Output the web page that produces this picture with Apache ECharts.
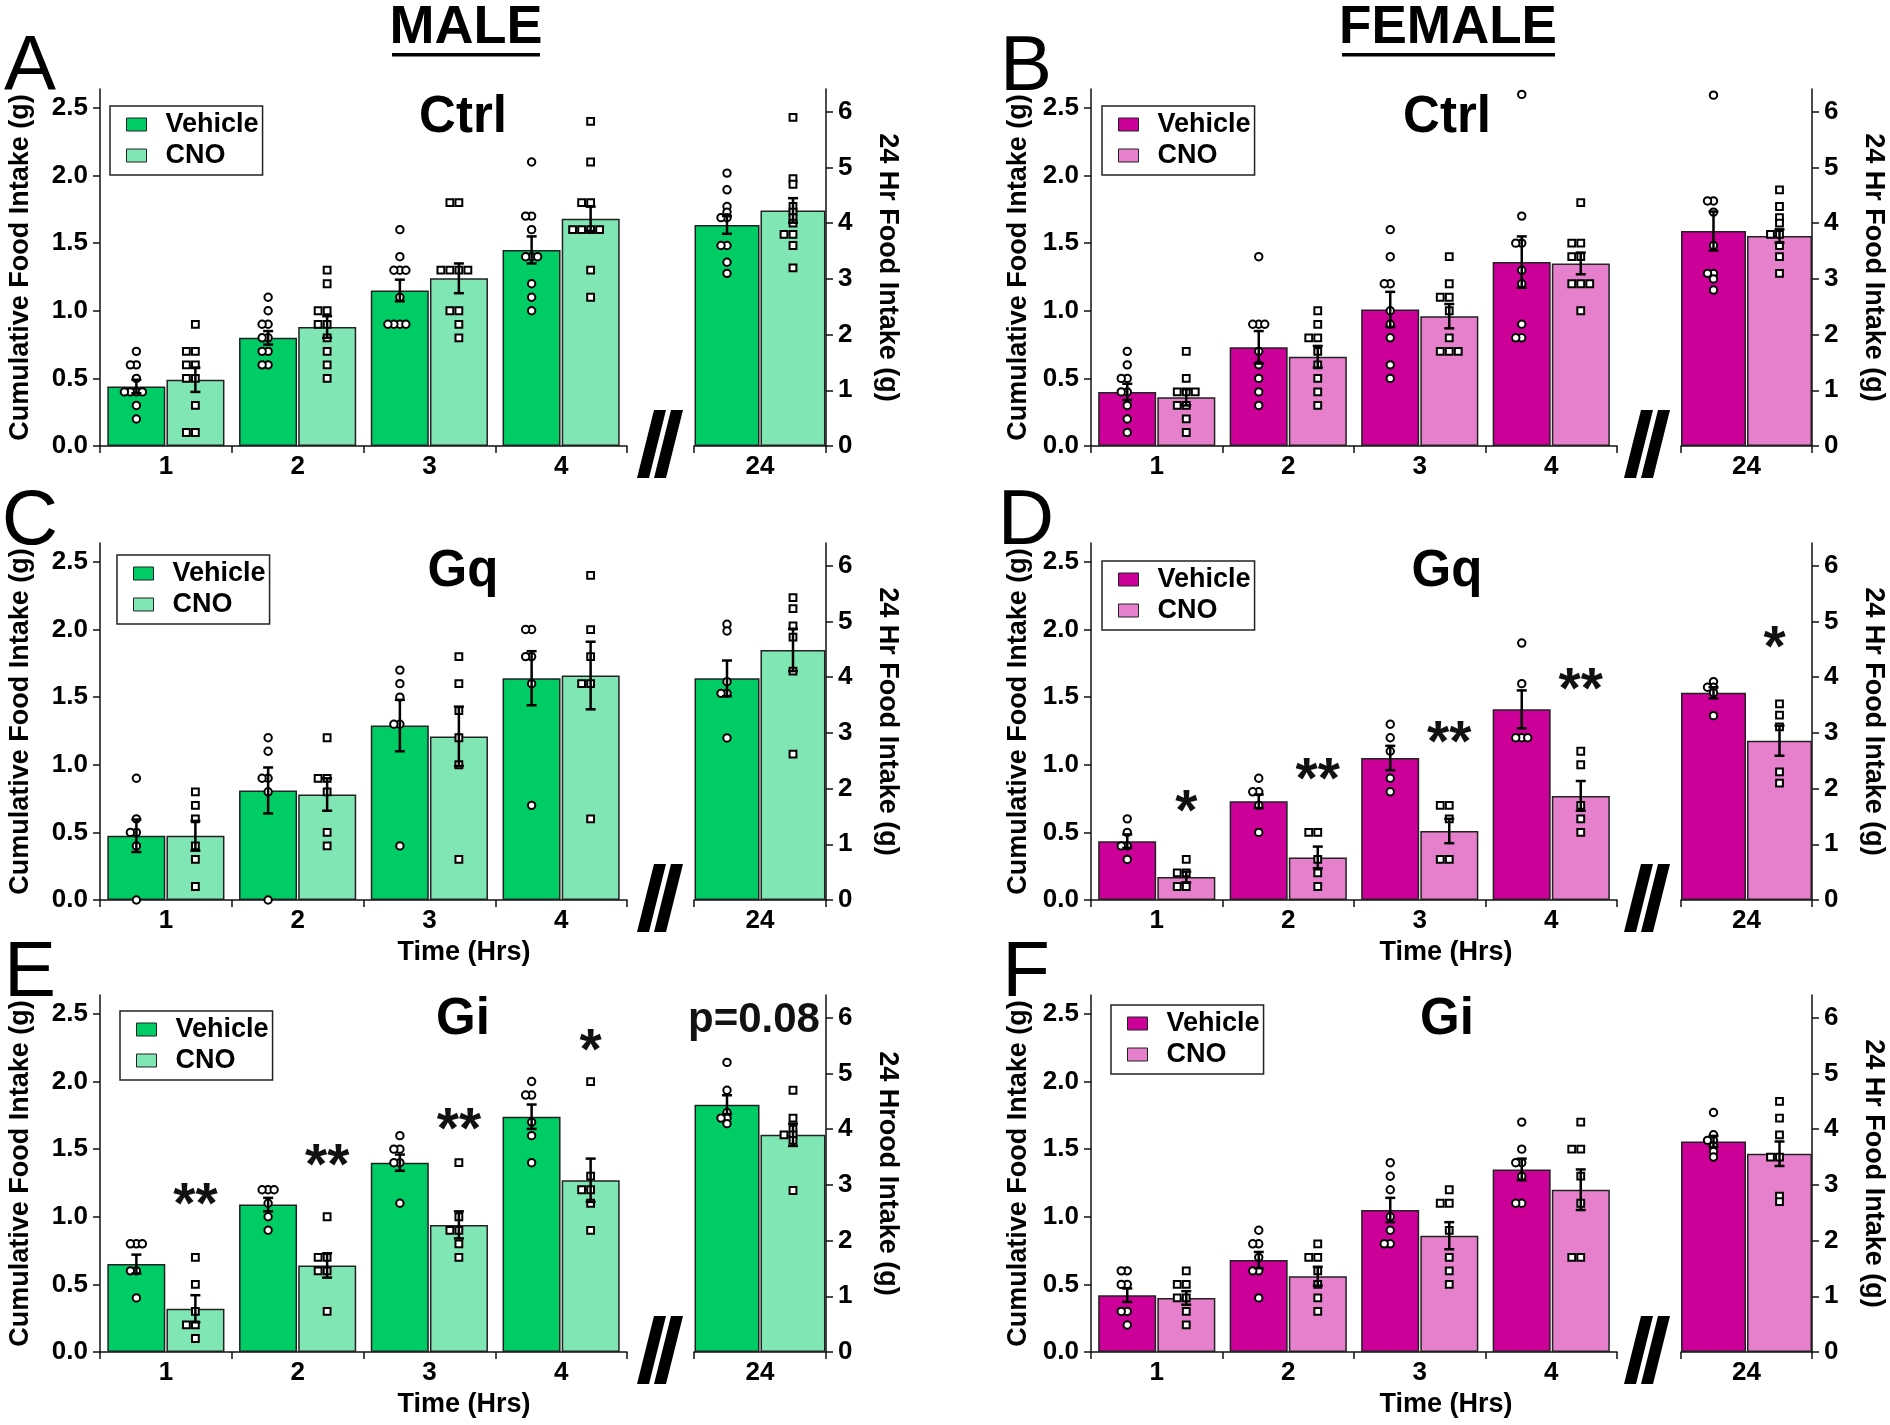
<!DOCTYPE html>
<html><head><meta charset="utf-8">
<script src="https://cdn.jsdelivr.net/npm/echarts@6/dist/echarts.min.js"></script>
<style>html,body{margin:0;padding:0;background:#fff}#c{width:1890px;height:1425px}</style>
</head><body><div id="c"></div><script>
// ---------- categories & ticks ----------
const hourCats = ['1', '2', '3', '4'];
const dayCats = ['24'];
const leftTicks = [0, 0.5, 1.0, 1.5, 2.0, 2.5];
const rightTicks = [0, 1, 2, 3, 4, 5, 6];

// ---------- data (index 0-3 = hours 1-4, left axis; index 4 = 24 h, right axis) ----------
// A: Male Ctrl
const aVehMean = [0.44, 0.80, 1.15, 1.45, 3.97];
const aVehSem  = [0.05, 0.05, 0.08, 0.10, 0.16];
const aCnoMean = [0.49, 0.88, 1.24, 1.68, 4.23];
const aCnoSem  = [0.09, 0.08, 0.11, 0.09, 0.22];
const aVehPts = [
  [0.7,0.6,0.6,0.5,0.4,0.4,0.4,0.4,0.3,0.2],
  [1.1,1.0,0.9,0.9,0.8,0.8,0.7,0.7,0.6,0.6],
  [1.6,1.4,1.3,1.3,1.3,1.1,0.9,0.9,0.9,0.9],
  [2.1,1.7,1.7,1.6,1.4,1.4,1.4,1.2,1.1,1.0],
  [4.9,4.6,4.3,4.2,4.1,4.1,3.6,3.6,3.3,3.1]];
const aCnoPts = [
  [0.9,0.7,0.7,0.6,0.6,0.5,0.5,0.3,0.1,0.1],
  [1.3,1.2,1.0,1.0,0.9,0.9,0.8,0.7,0.6,0.5],
  [1.8,1.8,1.3,1.3,1.3,1.3,1.0,1.0,0.9,0.8],
  [2.4,2.1,1.8,1.8,1.6,1.6,1.6,1.6,1.3,1.1],
  [5.9,4.8,4.7,4.3,4.2,4.1,4.0,3.8,3.8,3.6,3.2]];

// B: Female Ctrl
const bVehMean = [0.40, 0.73, 1.01, 1.36, 3.86];
const bVehSem  = [0.06, 0.12, 0.13, 0.19, 0.35];
const bCnoMean = [0.36, 0.66, 0.96, 1.35, 3.77];
const bCnoSem  = [0.06, 0.08, 0.09, 0.08, 0.12];
const bVehPts = [
  [0.7,0.6,0.5,0.5,0.4,0.4,0.3,0.2,0.1],
  [1.4,0.9,0.9,0.9,0.7,0.6,0.5,0.4,0.3],
  [1.6,1.4,1.2,1.2,1.0,0.9,0.8,0.6,0.5],
  [2.6,1.7,1.5,1.5,1.3,1.2,0.9,0.8,0.8],
  [6.3,4.4,4.4,4.2,3.6,3.1,3.1,3.0,2.8]];
const bCnoPts = [
  [0.7,0.5,0.4,0.4,0.4,0.3,0.3,0.2,0.1],
  [1.0,0.9,0.8,0.8,0.7,0.6,0.5,0.4,0.3],
  [1.4,1.2,1.1,1.1,1.0,0.8,0.7,0.7,0.7],
  [1.8,1.5,1.5,1.4,1.4,1.2,1.2,1.2,1.0],
  [4.6,4.3,4.1,4.0,3.8,3.8,3.6,3.4,3.1]];

// C: Male Gq
const cVehMean = [0.475, 0.81, 1.29, 1.64, 3.98];
const cVehSem  = [0.12, 0.17, 0.19, 0.20, 0.32];
const cCnoMean = [0.475, 0.78, 1.21, 1.66, 4.49];
const cCnoSem  = [0.11, 0.12, 0.22, 0.25, 0.38];
const cVehPts = [
  [0.9,0.6,0.5,0.5,0.4,0.0],
  [1.2,1.1,0.9,0.9,0.8,0.0],
  [1.7,1.6,1.5,1.3,1.3,0.4],
  [2.0,2.0,1.8,1.8,1.6,0.7],
  [4.95,4.83,3.92,3.71,3.71,2.91]];
const cCnoPts = [
  [0.8,0.7,0.6,0.4,0.3,0.1],
  [1.2,0.9,0.9,0.8,0.5,0.4],
  [1.8,1.6,1.4,1.2,1.0,0.3],
  [2.4,2.0,1.8,1.6,1.6,0.6],
  [5.43,5.23,4.92,4.72,4.11,2.62]];

// D: Female Gq
const dVehMean = [0.435, 0.73, 1.05, 1.41, 3.72];
const dVehSem  = [0.05, 0.05, 0.09, 0.14, 0.10];
const dCnoMean = [0.17, 0.315, 0.51, 0.77, 2.86];
const dCnoSem  = [0.04, 0.08, 0.09, 0.11, 0.27];
const dVehPts = [
  [0.6,0.5,0.4,0.4,0.3],
  [0.9,0.8,0.8,0.7,0.5],
  [1.3,1.2,1.1,0.9,0.8],
  [1.9,1.6,1.2,1.2,1.2],
  [3.92,3.82,3.82,3.72,3.31]];
const dCnoPts = [
  [0.3,0.2,0.2,0.1,0.1],
  [0.5,0.5,0.3,0.2,0.1],
  [0.7,0.7,0.6,0.3,0.3],
  [1.1,1.0,0.7,0.6,0.5],
  [3.52,3.32,3.11,2.30,2.10]];
const dStars = [[0, 0.73, '*'], [1, 0.96, '**'], [2, 1.24, '**'], [3, 1.63, '**']];
const dDayStars = [[0, 4.7, '*']];

// E: Male Gi
const eVehMean = [0.65, 1.09, 1.40, 1.74, 4.44];
const eVehSem  = [0.07, 0.05, 0.06, 0.09, 0.17];
const eCnoMean = [0.32, 0.64, 0.94, 1.27, 3.90];
const eCnoSem  = [0.10, 0.09, 0.10, 0.16, 0.20];
const eVehPts = [
  [0.8,0.8,0.8,0.6,0.6,0.4],
  [1.2,1.2,1.2,1.1,1.0,0.9],
  [1.6,1.5,1.5,1.4,1.4,1.1],
  [2.0,1.9,1.9,1.7,1.6,1.4],
  [5.2,4.7,4.3,4.2,4.2,4.1]];
const eCnoPts = [
  [0.7,0.5,0.3,0.2,0.2,0.1],
  [1.0,0.7,0.7,0.6,0.6,0.3],
  [1.4,1.0,0.9,0.9,0.8,0.7],
  [2.0,1.3,1.2,1.2,1.1,0.9],
  [4.7,4.2,4.0,3.9,3.9,3.8,2.9]];
const eStars = [[0, 1.16, '**'], [1, 1.45, '**'], [2, 1.72, '**'], [3, 2.30, '*']];
const eDayNote = [[0, 5.95, 'p=0.08']];

// F: Female Gi
const fVehMean = [0.42, 0.68, 1.05, 1.35, 3.78];
const fVehSem  = [0.05, 0.06, 0.09, 0.08, 0.10];
const fCnoMean = [0.40, 0.56, 0.86, 1.20, 3.56];
const fCnoSem  = [0.05, 0.07, 0.10, 0.15, 0.22];
const fVehPts = [
  [0.6,0.6,0.5,0.5,0.3,0.3,0.2],
  [0.9,0.8,0.8,0.7,0.6,0.6,0.4],
  [1.4,1.3,1.2,1.0,0.9,0.8,0.8],
  [1.7,1.5,1.4,1.4,1.3,1.1,1.1],
  [4.3,3.9,3.8,3.8,3.7,3.6,3.5]];
const fCnoPts = [
  [0.6,0.5,0.5,0.4,0.4,0.3,0.2],
  [0.8,0.7,0.7,0.6,0.5,0.4,0.3],
  [1.2,1.1,1.1,0.9,0.7,0.6,0.5],
  [1.7,1.5,1.5,1.3,1.1,0.7,0.7],
  [4.5,4.2,3.9,3.5,3.5,2.8,2.7]];

// ---------- styles / layout ----------
const FONT = '"Liberation Sans", Arial, Helvetica, sans-serif';
const COL = { mVeh: '#00CC66', mCno: '#80E6B3', fVeh: '#CC0099', fCno: '#E680CC' };
const ROW_TOP = [89, 543, 995];
const GRID_H = 357;
const HOUR_GRID = { male: { left: 100, width: 527 }, female: { left: 1091, width: 526 } };
const DAY_GRID = { male: { left: 694, width: 132 }, female: { left: 1681, width: 131 } };
const LEFT_MAX = 2.64, RIGHT_MAX = 6.41;
const HOUR_BAR_W = 58, DAY_BAR_W = 65;
const CIRCLE_STEP = 6, SQUARE_STEP = 9;
const TITLE_X = { male: 463, female: 1447 };
const TITLE_TOP = [92, 546, 994];
const NAME_GAP_LEFT = { male: 66, female: 59 };
const STAR_FS = 57;

const panels = [
  { sex: 'male', row: 0, letter: 'A', title: 'Ctrl', vm: aVehMean, vs: aVehSem, cm: aCnoMean, cs: aCnoSem, vp: aVehPts, cp: aCnoPts, stars: [], dayStars: [], note: [], dayName: '24 Hr Food Intake (g)', legend: [110, 106] },
  { sex: 'female', row: 0, letter: 'B', title: 'Ctrl', vm: bVehMean, vs: bVehSem, cm: bCnoMean, cs: bCnoSem, vp: bVehPts, cp: bCnoPts, stars: [], dayStars: [], note: [], dayName: '24 Hr Food Intake (g)', legend: [1102, 106] },
  { sex: 'male', row: 1, letter: 'C', title: 'Gq', vm: cVehMean, vs: cVehSem, cm: cCnoMean, cs: cCnoSem, vp: cVehPts, cp: cCnoPts, stars: [], dayStars: [], note: [], dayName: '24 Hr Food Intake (g)', legend: [117, 555], time: true },
  { sex: 'female', row: 1, letter: 'D', title: 'Gq', vm: dVehMean, vs: dVehSem, cm: dCnoMean, cs: dCnoSem, vp: dVehPts, cp: dCnoPts, stars: dStars, dayStars: dDayStars, note: [], dayName: '24 Hr Food Intake (g)', legend: [1102, 561], time: true },
  { sex: 'male', row: 2, letter: 'E', title: 'Gi', vm: eVehMean, vs: eVehSem, cm: eCnoMean, cs: eCnoSem, vp: eVehPts, cp: eCnoPts, stars: eStars, dayStars: [], note: eDayNote, dayName: '24 Hrood Intake (g)', legend: [120, 1011], time: true },
  { sex: 'female', row: 2, letter: 'F', title: 'Gi', vm: fVehMean, vs: fVehSem, cm: fCnoMean, cs: fCnoSem, vp: fVehPts, cp: fCnoPts, stars: [], dayStars: [], note: [], dayName: '24 Hr Food Intake (g)', legend: [1111, 1005], time: true }
];

// spread points that share the same value side by side: 0, -1, +1, -2, +2 ...
function jitter(groups) {
  const out = [];
  groups.forEach(function (vals, ci) {
    const seen = {};
    vals.forEach(function (v) {
      const k = v.toFixed(2);
      const n = seen[k] || 0;
      seen[k] = n + 1;
      const j = n === 0 ? 0 : (n % 2 === 1 ? -(n + 1) / 2 : n / 2);
      out.push([ci, v, j]);
    });
  });
  return out;
}

function makeX(gridIndex, cats) {
  return {
    type: 'category', gridIndex: gridIndex, data: cats,
    axisLine: { show: true, lineStyle: { color: '#111', width: 1.5 } },
    axisTick: { show: true, length: 7, interval: 0, lineStyle: { color: '#111', width: 1.5 } },
    axisLabel: { fontFamily: FONT, fontSize: 26, fontWeight: 'bold', color: '#000', margin: 8 },
    splitLine: { show: false }
  };
}
function makeY(gridIndex, side, max, ticks, step, digits, name, gap) {
  return {
    type: 'value', gridIndex: gridIndex, position: side, min: 0, max: max, interval: step,
    axisLine: { show: true, lineStyle: { color: '#111', width: 1.5 } },
    axisTick: { show: true, length: 7, customValues: ticks, lineStyle: { color: '#111', width: 1.5 } },
    axisLabel: {
      show: true, customValues: ticks, margin: 12,
      formatter: function (v) { return Math.abs(v / step - Math.round(v / step)) > 1e-6 ? '' : v.toFixed(digits); },
      fontFamily: FONT, fontSize: 26, fontWeight: 'bold', color: '#000'
    },
    splitLine: { show: false },
    name: name, nameLocation: 'middle', nameGap: gap, nameRotate: side === 'left' ? 90 : -90,
    nameTextStyle: { fontFamily: FONT, fontSize: 27, fontWeight: 'bold', color: '#000' }
  };
}
function bar(name, idx, data, color, w, gap) {
  return {
    type: 'bar', name: name, xAxisIndex: idx, yAxisIndex: idx, data: data, barWidth: w, barGap: gap,
    itemStyle: { color: color, borderColor: '#222', borderWidth: 1.5 }, z: 2, silent: true
  };
}
function points(idx, data, side, barW, shape) {
  return {
    type: 'custom', xAxisIndex: idx, yAxisIndex: idx, data: data, z: 3, silent: true, clip: false,
    encode: { x: 0, y: 1 },
    renderItem: function (params, api) {
      const c = api.coord([api.value(0), api.value(1)]);
      const step = shape === 'circle' ? CIRCLE_STEP : SQUARE_STEP;
      const x = c[0] + side * (barW / 2 + 0.5) + api.value(2) * step;
      const y = c[1];
      const st = { fill: '#fff', stroke: '#000', lineWidth: 2 };
      if (shape === 'circle') return { type: 'circle', shape: { cx: x, cy: y, r: 3.7 }, style: st };
      return { type: 'rect', shape: { x: x - 3.4, y: y - 3.4, width: 6.8, height: 6.8 }, style: st };
    }
  };
}
function errors(idx, data, barW) {
  return {
    type: 'custom', xAxisIndex: idx, yAxisIndex: idx, data: data, z: 4, silent: true, clip: false,
    encode: { x: 0, y: 1 },
    renderItem: function (params, api) {
      const m = api.value(1), s = api.value(2), side = api.value(3);
      const t = api.coord([api.value(0), m + s]);
      const b = api.coord([api.value(0), m - s]);
      const x = t[0] + side * (barW / 2 + 0.5);
      const st = { stroke: '#000', lineWidth: 2.5 };
      return {
        type: 'group', children: [
          { type: 'line', shape: { x1: x, y1: t[1], x2: x, y2: b[1] }, style: st },
          { type: 'line', shape: { x1: x - 5, y1: t[1], x2: x + 5, y2: t[1] }, style: st },
          { type: 'line', shape: { x1: x - 5, y1: b[1], x2: x + 5, y2: b[1] }, style: st }
        ]
      };
    }
  };
}
function marks(idx, data, side, barW, fontSize, lift, shiftX) {
  return {
    type: 'custom', xAxisIndex: idx, yAxisIndex: idx, data: data, z: 5, silent: true, clip: false,
    encode: { x: 0, y: 1 },
    renderItem: function (params, api) {
      const c = api.coord([api.value(0), api.value(1)]);
      const x = c[0] + side * (barW / 2 + 0.5) + shiftX;
      return {
        type: 'text', x: x, y: c[1] + lift,
        style: {
          text: api.value(2), fill: '#111', font: 'bold ' + fontSize + 'px ' + FONT,
          align: 'center', verticalAlign: 'middle', textAlign: 'center', textVerticalAlign: 'middle'
        }
      };
    }
  };
}

const option = {
  animation: false, backgroundColor: '#fff', textStyle: { fontFamily: FONT },
  title: [], legend: [], grid: [], xAxis: [], yAxis: [], series: [], graphic: []
};

function gtext(text, x, y, font) {
  return {
    type: 'text', x: x, y: y, silent: true,
    style: { text: text, font: font, fill: '#000', align: 'center', verticalAlign: 'middle', textAlign: 'center', textVerticalAlign: 'middle' }
  };
}

panels.forEach(function (p, i) {
  const h = i * 2, d = i * 2 + 1;
  const top = ROW_TOP[p.row];
  const hg = HOUR_GRID[p.sex], dg = DAY_GRID[p.sex];
  const vc = p.sex === 'male' ? COL.mVeh : COL.fVeh;
  const cc = p.sex === 'male' ? COL.mCno : COL.fCno;
  option.grid.push({ left: hg.left, top: top, width: hg.width, height: GRID_H });
  option.grid.push({ left: dg.left, top: top, width: dg.width, height: GRID_H });
  option.xAxis.push(makeX(h, hourCats));
  option.xAxis.push(makeX(d, dayCats));
  option.yAxis.push(makeY(h, 'left', LEFT_MAX, leftTicks, 0.5, 1, 'Cumulative Food Intake (g)', NAME_GAP_LEFT[p.sex]));
  option.yAxis.push(makeY(d, 'right', RIGHT_MAX, rightTicks, 1, 0, p.dayName, 48));

  option.series.push(bar('Vehicle', h, p.vm.slice(0, 4), vc, HOUR_BAR_W, '2%'));
  option.series.push(bar('CNO', h, p.cm.slice(0, 4), cc, HOUR_BAR_W, '2%'));
  option.series.push(bar('Vehicle', d, [p.vm[4]], vc, DAY_BAR_W, '1.5%'));
  option.series.push(bar('CNO', d, [p.cm[4]], cc, DAY_BAR_W, '1.5%'));

  option.series.push(points(h, jitter(p.vp.slice(0, 4)), -1, HOUR_BAR_W, 'circle'));
  option.series.push(points(h, jitter(p.cp.slice(0, 4)), 1, HOUR_BAR_W, 'square'));
  option.series.push(points(d, jitter([p.vp[4]]), -1, DAY_BAR_W, 'circle'));
  option.series.push(points(d, jitter([p.cp[4]]), 1, DAY_BAR_W, 'square'));

  const eh = [], ed = [];
  for (let k = 0; k < 4; k++) { eh.push([k, p.vm[k], p.vs[k], -1]); eh.push([k, p.cm[k], p.cs[k], 1]); }
  ed.push([0, p.vm[4], p.vs[4], -1]); ed.push([0, p.cm[4], p.cs[4], 1]);
  option.series.push(errors(h, eh, HOUR_BAR_W));
  option.series.push(errors(d, ed, DAY_BAR_W));
  if (p.stars.length) option.series.push(marks(h, p.stars, 1, HOUR_BAR_W, STAR_FS, 0.22 * STAR_FS, 0));
  if (p.dayStars.length) option.series.push(marks(d, p.dayStars, 1, DAY_BAR_W, STAR_FS, 0.22 * STAR_FS, -5));
  if (p.note.length) option.series.push(marks(d, p.note, 0, DAY_BAR_W, 42, 0, -6));

  option.title.push({
    text: p.title, left: TITLE_X[p.sex], top: TITLE_TOP[p.row], padding: 0,
    textAlign: 'center', textVerticalAlign: 'top',
    textStyle: { fontFamily: FONT, fontSize: 51, fontWeight: 'bold', color: '#000' }
  });
  option.legend.push({
    orient: 'vertical', left: p.legend[0], top: p.legend[1], padding: [5, 4, 6, 16],
    itemGap: 4, itemWidth: 20, itemHeight: 13, icon: 'rect', selectedMode: false,
    borderColor: '#222', borderWidth: 1.5, backgroundColor: '#fff',
    textStyle: { fontFamily: FONT, fontSize: 27, fontWeight: 'bold', color: '#000', padding: [0, 0, 0, 14] },
    data: [
      { name: 'Vehicle', itemStyle: { color: vc, borderColor: '#222', borderWidth: 1 } },
      { name: 'CNO', itemStyle: { color: cc, borderColor: '#222', borderWidth: 1 } }
    ]
  });

  // panel letter
  const zero = top + GRID_H;
  const letterX = p.sex === 'male' ? 30 : 1026;
  option.graphic.push(gtext(p.letter, letterX, zero - 378, 'normal 78px ' + FONT));
  if (p.time) option.graphic.push(gtext('Time (Hrs)', p.sex === 'male' ? 464 : 1446, zero + 53, 'bold 27px ' + FONT));
  // axis break marks
  const bx = dg.left - 57;
  [0, 17].forEach(function (o) {
    option.graphic.push({
      type: 'polygon', silent: true,
      shape: { points: [[bx + o, zero + 32], [bx + o + 12, zero + 32], [bx + o + 29, zero - 36], [bx + o + 17, zero - 36]] },
      style: { fill: '#000' }
    });
  });
});

// sex headers
option.graphic.push(gtext('MALE', 466, 28, 'bold 54px ' + FONT));
option.graphic.push({ type: 'rect', silent: true, shape: { x: 392, y: 53, width: 148, height: 3.5 }, style: { fill: '#000' } });
option.graphic.push(gtext('FEMALE', 1448, 28, 'bold 53px ' + FONT));
option.graphic.push({ type: 'rect', silent: true, shape: { x: 1342, y: 53, width: 213, height: 3.5 }, style: { fill: '#000' } });

const chart = echarts.init(document.getElementById('c'), null, { renderer: 'canvas' });
chart.setOption(option);
</script></body></html>
